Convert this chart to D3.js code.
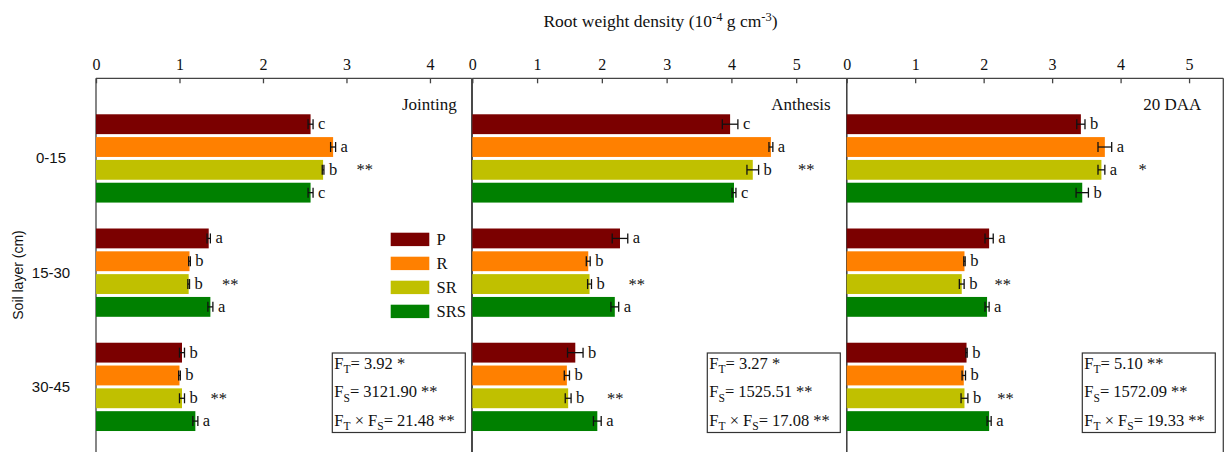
<!DOCTYPE html>
<html>
<head>
<meta charset="utf-8">
<script src="https://cdn.jsdelivr.net/npm/d3@7/dist/d3.min.js"></script>
<style>
  html, body { margin: 0; padding: 0; background: #fff; }
  svg { display: block; }
  .serif { font-family: "Liberation Serif", "Times New Roman", serif; fill: #111; }
  .sans { font-family: "Liberation Sans", Arial, sans-serif; fill: #111; }
</style>
</head>
<body>
<svg id="chart" width="1229" height="452"></svg>
<script>
// Treatments and soil layers
const series = ["P", "R", "SR", "SRS"];
const layers = ["0-15", "15-30", "30-45"];
const stages = ["Jointing", "Anthesis", "20 DAA"];
const colors = ["#7b0000", "#ff8000", "#c0c000", "#008000"];

// Root weight density (10^-4 g cm^-3), rows = soil layer, columns = treatment
const jointingMean = [[2.57, 2.84, 2.72, 2.57], [1.35, 1.12, 1.11, 1.37], [1.03, 1.00, 1.03, 1.19]];
const jointingSE   = [[0.03, 0.03, 0.01, 0.03], [0.02, 0.01, 0.01, 0.03], [0.03, 0.01, 0.03, 0.03]];
const anthesisMean = [[3.98, 4.61, 4.33, 4.04], [2.28, 1.79, 1.81, 2.20], [1.59, 1.46, 1.48, 1.93]];
const anthesisSE   = [[0.12, 0.03, 0.09, 0.03], [0.12, 0.03, 0.03, 0.06], [0.12, 0.04, 0.045, 0.06]];
const daaMean      = [[3.42, 3.77, 3.72, 3.44], [2.08, 1.72, 1.68, 2.05], [1.75, 1.71, 1.72, 2.08]];
const daaSE        = [[0.06, 0.10, 0.05, 0.09], [0.06, 0.01, 0.035, 0.03], [0.01, 0.025, 0.05, 0.03]];

// Multiple-comparison letters
const jointingLetters = [["c", "a", "b", "c"], ["a", "b", "b", "a"], ["b", "b", "b", "a"]];
const anthesisLetters = [["c", "a", "b", "c"], ["a", "b", "b", "a"], ["b", "b", "b", "a"]];
const daaLetters      = [["b", "a", "a", "b"], ["a", "b", "b", "a"], ["b", "b", "b", "a"]];

// Significance of treatment effect within each layer
const jointingSig = ["**", "**", "**"];
const anthesisSig = ["**", "**", "**"];
const daaSig      = ["*", "**", "**"];

// Two-way ANOVA F values
const jointingF = ["3.92 *", "3121.90 **", "21.48 **"];
const anthesisF = ["3.27 *", "1525.51 **", "17.08 **"];
const daaF      = ["5.10 **", "1572.09 **", "19.33 **"];

// Axis ticks per panel
const jointingTicks = [0, 1, 2, 3, 4];
const anthesisTicks = [0, 1, 2, 3, 4, 5];
const daaTicks      = [0, 1, 2, 3, 4, 5];

// Panel layout
const panels = [
  { name: stages[0], mean: jointingMean, se: jointingSE, letters: jointingLetters, sig: jointingSig, F: jointingF,
    ticks: jointingTicks, xmax: 4.5, left: 96, right: 471.7, sigAt: [3.12, 1.51, 1.37], titleInset: 15, boxInset: 6.4, legend: true },
  { name: stages[1], mean: anthesisMean, se: anthesisSE, letters: anthesisLetters, sig: anthesisSig, F: anthesisF,
    ticks: anthesisTicks, xmax: 5.78, left: 472.3, right: 846.7, sigAt: [5.03, 2.41, 2.08], titleInset: 16, boxInset: 6.4, legend: false },
  { name: stages[2], mean: daaMean, se: daaSE, letters: daaLetters, sig: daaSig, F: daaF,
    ticks: daaTicks, xmax: 5.5, left: 846.7, right: 1223.3, sigAt: [4.26, 2.16, 2.20], titleInset: 22, boxInset: 8, legend: false }
];

const svg = d3.select("#chart");
const plotTop = 78.3, plotBottom = 452;

// Soil layer bands and treatment sub-bands
const y = d3.scaleBand().domain(layers).range([plotTop, 467]).paddingInner(0.227).paddingOuter(0.315);
const ySub = d3.scaleBand().domain(series).range([0, y.bandwidth()]).paddingInner(0.13);

panels.forEach(p => {
  const x = d3.scaleLinear().domain([0, p.xmax]).range([p.left, p.right]);
  const g = svg.append("g");

  // frame: left and right edges
  g.append("line").attr("x1", p.left).attr("x2", p.left).attr("y1", plotTop).attr("y2", plotBottom)
    .attr("stroke", "#444").attr("stroke-width", 1.3);
  g.append("line").attr("x1", p.right).attr("x2", p.right).attr("y1", plotTop).attr("y2", plotBottom)
    .attr("stroke", "#444").attr("stroke-width", 1.3);

  // top axis with inward ticks
  const ax = g.append("g").attr("transform", `translate(0,${plotTop})`)
    .call(d3.axisTop(x).tickValues(p.ticks).tickFormat(d3.format("d")).tickSizeInner(-5).tickSizeOuter(0).tickPadding(8));
  ax.select(".domain").attr("stroke", "#444").attr("stroke-width", 1.3).attr("d", `M${p.left},0H${p.right}`);
  ax.selectAll(".tick line").attr("stroke", "#444").attr("stroke-width", 1.3);
  ax.selectAll(".tick text").attr("class", "serif").attr("font-size", 16).attr("fill", "#111");

  // panel title
  g.append("text").attr("class", "serif").attr("font-size", 17)
    .attr("x", p.right - p.titleInset).attr("y", 110)
    .attr("text-anchor", "end").text(p.name);

  layers.forEach((layer, li) => {
    const gy = y(layer);
    series.forEach((s, si) => {
      const v = p.mean[li][si], e = p.se[li][si];
      const by = gy + ySub(s), bh = ySub.bandwidth(), cy = by + bh / 2;
      g.append("rect").attr("x", x(0)).attr("y", by).attr("width", x(v) - x(0)).attr("height", bh)
        .attr("fill", colors[si]);
      // error bar
      const eb = g.append("g").attr("stroke", "#111").attr("stroke-width", 1.3);
      eb.append("line").attr("x1", x(v - e)).attr("x2", x(v + e)).attr("y1", cy).attr("y2", cy);
      eb.append("line").attr("x1", x(v - e)).attr("x2", x(v - e)).attr("y1", cy - 5).attr("y2", cy + 5);
      eb.append("line").attr("x1", x(v + e)).attr("x2", x(v + e)).attr("y1", cy - 5).attr("y2", cy + 5);
      // letter
      g.append("text").attr("class", "serif").attr("font-size", 16.5)
        .attr("x", x(v + e) + 5).attr("y", cy + 5).text(p.letters[li][si]);
    });
    // significance mark
    g.append("text").attr("class", "serif").attr("font-size", 16.5)
      .attr("x", x(p.sigAt[li])).attr("y", gy + y.bandwidth() / 2 + 17).text(p.sig[li]);
  });

  // ANOVA box
  const bw = 133, bx = p.right - p.boxInset - bw, boxTop = 353, boxH = 79.5;
  g.append("rect").attr("x", bx).attr("y", boxTop).attr("width", bw).attr("height", boxH)
    .attr("fill", "#fff").attr("stroke", "#333").attr("stroke-width", 1.2);
  const lines = [
    [["F", 0], ["T", 1], ["= " + p.F[0], 0]],
    [["F", 0], ["S", 1], ["= " + p.F[1], 0]],
    [["F", 0], ["T", 1], [" \u00d7  F", 0], ["S", 1], ["= " + p.F[2], 0]]
  ];
  lines.forEach((parts, k) => {
    const t = g.append("text").attr("class", "serif").attr("font-size", 16.5)
      .attr("x", bx + 2).attr("y", boxTop + 15.5 + k * 28.5);
    let shifted = false;
    parts.forEach(([str, sub]) => {
      const ts = t.append("tspan").text(str);
      if (sub) { ts.attr("dy", 4.5).attr("font-size", 11.5); shifted = true; }
      else if (shifted) { ts.attr("dy", -4.5); shifted = false; }
    });
  });

  // legend
  if (p.legend) {
    series.forEach((s, si) => {
      const ly = 232.7 + si * 24;
      g.append("rect").attr("x", 390.7).attr("y", ly).attr("width", 38.6).attr("height", 13.4).attr("fill", colors[si]);
      g.append("text").attr("class", "serif").attr("font-size", 16.5)
        .attr("x", 436.5).attr("y", ly + 12).text(s);
    });
  }
});

// layer labels
layers.forEach(l => {
  svg.append("text").attr("class", "sans").attr("font-size", 15)
    .attr("x", 51).attr("y", y(l) + y.bandwidth() / 2 + 5).attr("text-anchor", "middle").text(l);
});

// y axis title
svg.append("text").attr("class", "sans").attr("font-size", 14)
  .attr("transform", "translate(23,275) rotate(-90)").attr("text-anchor", "middle").text("Soil layer (cm)");

// x axis title
const title = svg.append("text").attr("class", "serif").attr("font-size", 17.5)
  .attr("x", 660.5).attr("y", 27).attr("text-anchor", "middle");
title.append("tspan").text("Root weight density (10");
title.append("tspan").attr("dy", -6).attr("font-size", 12.5).text("-4");
title.append("tspan").attr("dy", 6).text(" g cm");
title.append("tspan").attr("dy", -6).attr("font-size", 12.5).text("-3");
title.append("tspan").attr("dy", 6).text(")");
</script>
</body>
</html>
